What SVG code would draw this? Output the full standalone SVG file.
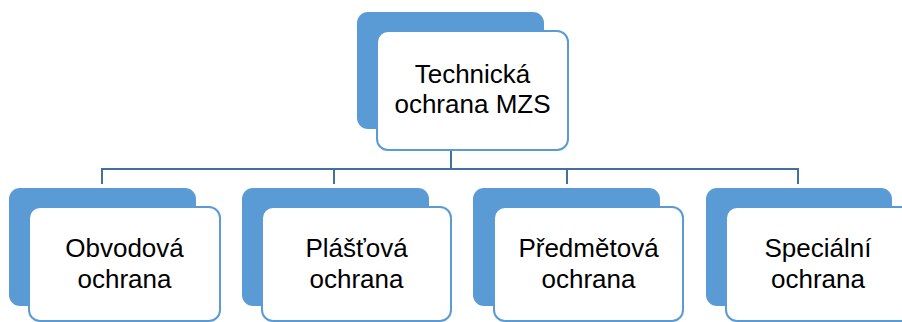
<svg xmlns="http://www.w3.org/2000/svg" width="902" height="322" viewBox="0 0 902 322">
<style>
.back{fill:#5B9BD5;}
.front{fill:#FFFFFF;stroke:#5B9BD5;stroke-width:2;}
.lbl{font-family:"Liberation Sans",Arial,sans-serif;font-size:26px;fill:#000;text-anchor:middle;}
.conn{fill:none;stroke:#41719C;stroke-width:2;}
</style>
<rect width="902" height="322" fill="#FFFFFF"/>
<g id="connectors">
<path class="conn" d="M451,150 V169"/>
<path class="conn" d="M102,184 V169 H798 V184"/>
<path class="conn" d="M334,169 V184"/>
<path class="conn" d="M567,169 V184"/>
</g>
<g id="node-top">
<rect class="back" x="357" y="12" width="187" height="117" rx="11"/>
<rect class="front" x="377" y="31" width="191" height="119" rx="11"/>
<text class="lbl" x="472.5" y="83">Technická</text>
<text class="lbl" x="472.5" y="113">ochrana MZS</text>
</g>
<g id="node-obvodova">
<rect class="back" x="9" y="188" width="187" height="118" rx="11"/>
<rect class="front" x="29" y="207" width="191" height="114" rx="11"/>
<text class="lbl" x="124.5" y="257">Obvodová</text>
<text class="lbl" x="124.5" y="288">ochrana</text>
</g>
<g id="node-plastova">
<rect class="back" x="242" y="188" width="187" height="118" rx="11"/>
<rect class="front" x="262" y="207" width="189" height="114" rx="11"/>
<text class="lbl" x="356.5" y="257">Plášťová</text>
<text class="lbl" x="356.5" y="288">ochrana</text>
</g>
<g id="node-predmetova">
<rect class="back" x="473" y="188" width="187" height="118" rx="11"/>
<rect class="front" x="494" y="207" width="189" height="114" rx="11"/>
<text class="lbl" x="588.5" y="257">Předmětová</text>
<text class="lbl" x="588.5" y="288">ochrana</text>
</g>
<g id="node-specialni">
<rect class="back" x="706" y="188" width="186" height="118" rx="11"/>
<rect class="front" x="726" y="207" width="190" height="114" rx="11"/>
<text class="lbl" x="818" y="257">Speciální</text>
<text class="lbl" x="818" y="288">ochrana</text>
</g>
</svg>
